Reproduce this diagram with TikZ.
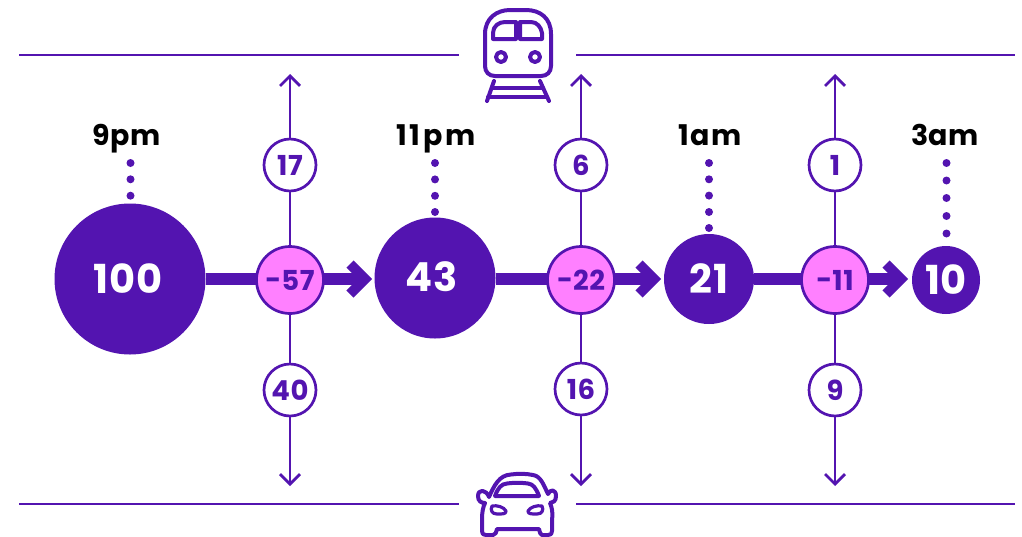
\documentclass[tikz,border=0pt]{standalone}
\usepackage{fontspec}
\setmainfont{Poppins}[BoldFont={Poppins Bold},LetterSpace=2]
\definecolor{vio}{HTML}{5314B0}
\definecolor{pnk}{HTML}{FF80FF}
\usetikzlibrary{arrows.meta}
\tikzset{
  every node/.style={font=\bfseries},
  hline/.style={vio,line width=2.8pt},
  big/.style={circle,fill=vio,text=white,inner sep=0pt,font=\bfseries\fontsize{40}{40}\selectfont},
  delta/.style={circle,draw=vio,line width=2.7pt,fill=pnk,text=vio,minimum size=67pt,inner sep=0pt,font=\bfseries\fontsize{27.5}{27.5}\selectfont},
  flow/.style={circle,draw=vio,line width=2.7pt,fill=white,text=vio,minimum size=52pt,inner sep=0pt,font=\bfseries\fontsize{27.5}{27.5}\selectfont},
  timelbl/.style={text=black,inner sep=0pt,anchor=base,font=\bfseries\fontsize{28.5}{28.5}\selectfont},
  thin arrow/.style={vio,line width=2.8pt,-{Straight Barb[length=10pt,width=20pt,line width=2.8pt]}},
  shaft/.style={vio,line width=11.5pt},
  chev/.style={vio,line width=10pt,line join=miter,miter limit=10},
  dotmark/.style={vio},
  icon/.style={vio,line width=4pt,line join=round,line cap=round}
}
\begin{document}
\begin{tikzpicture}[x=1pt,y=-1pt]
\useasboundingbox (0,0) rectangle (1022,536);
% rails
\coordinate (ta) at (19,55); \coordinate (tb) at (459,55);
\coordinate (tc) at (576,55); \coordinate (td) at (1015,55);
\coordinate (ca) at (19,504); \coordinate (cb) at (459,504);
\coordinate (cc) at (576,504); \coordinate (cd) at (1015,504);
\draw[hline] (ta)--(tb) (tc)--(td) (ca)--(cb) (cc)--(cd);
% arrow ends
\coordinate (u1) at (290,74); \coordinate (d1) at (290,486);
\coordinate (u2) at (581,74); \coordinate (d2) at (581,486);
\coordinate (u3) at (835,74); \coordinate (d3) at (835,486);
% main nodes
\node[big,minimum size=151pt] (n1) at (130,279) {\hspace{-4pt}100};
\node[big,minimum size=121pt] (n2) at (435,278) {\hspace{-7pt}\raisebox{3pt}{43}};
\node[big,minimum size=90pt] (n3) at (709,279) {21};
\node[big,minimum size=68pt] (n4) at (946,280) {10};
% deltas
\coordinate (p1) at (290,280); \coordinate (p2) at (581,280); \coordinate (p3) at (835,280);
\draw[thin arrow] (p1)--(u1); \draw[thin arrow] (p1)--(d1);
\draw[thin arrow] (p2)--(u2); \draw[thin arrow] (p2)--(d2);
\draw[thin arrow] (p3)--(u3); \draw[thin arrow] (p3)--(d3);
% thick arrows: shaft + chevron
\coordinate (e1) at (365,279); \coordinate (e2) at (654,279); \coordinate (e3) at (901,279);
\draw[shaft] (n1.east|-e1)--(e1);
\draw[shaft] (n2.east|-e2)--(e2);
\draw[shaft] (n3.east|-e3)--(e3);
\draw[chev] ([xshift=-15pt,yshift=-15pt]e1)--(e1)--([xshift=-15pt,yshift=15pt]e1);
\draw[chev] ([xshift=-15pt,yshift=-15pt]e2)--(e2)--([xshift=-15pt,yshift=15pt]e2);
\draw[chev] ([xshift=-15pt,yshift=-15pt]e3)--(e3)--([xshift=-15pt,yshift=15pt]e3);
\node[delta] (m1) at (p1) {\raisebox{1pt}{-}57};
\node[delta] (m2) at (p2) {\raisebox{1pt}{-}22};
\node[delta] (m3) at (p3) {\raisebox{1pt}{-}11};
\node[flow] (a1) at (290,165) {17};
\node[flow] (b1) at (290,390) {40};
\node[flow] (a2) at (581,165) {6};
\node[flow] (b2) at (581,389) {16};
\node[flow] (a3) at (835,165) {1};
\node[flow] (b3) at (835,390) {9};
% time labels
\node[timelbl] (t1) at (127,145.5) {9pm};
\node[timelbl] (t2) at (436,145.5) {\addfontfeature{LetterSpace=10}11pm};
\node[timelbl] (t3) at (710,145.5) {\addfontfeature{LetterSpace=4}1am};
\node[timelbl] (t4) at (945,145.5) {3am};
% dotted leaders
\foreach \y in {163,179.3,195.7} \fill[dotmark] (130.5,\y) circle (4);
\foreach \y in {163,179.4,195.8,212} \fill[dotmark] (435,\y) circle (4);
\foreach \y in {163,179.3,195.6,212,228} \fill[dotmark] (709,\y) circle (4);
\foreach \y in {163,180.5,198,216,233.5} \fill[dotmark] (946.5,\y) circle (4);
% train
\draw[icon] (485,34) .. controls (485,18) and (497,10) .. (510,10) -- (526,10)
  .. controls (540,10) and (551,18) .. (551,34) -- (551,66)
  .. controls (551,72) and (547,76) .. (541,76) -- (495,76)
  .. controls (489,76) and (485,72) .. (485,66) -- cycle;
\draw[icon] (493,39) -- (493,33) .. controls (493,26) and (499,22) .. (505,22) -- (516,22) -- (516,39) -- cycle;
\draw[icon] (520,39) -- (520,22) -- (531,22) .. controls (537,22) and (541,27) .. (542,33) -- (542,39) -- cycle;
\draw[icon] (501,57) circle (5);
\draw[icon] (535,57) circle (5);
\draw[icon] (494,81) -- (487,101);
\draw[icon] (540,81) -- (549,101);
\draw[icon] (492,88) -- (543,88);
\draw[icon] (488,97) -- (547,97);
% car
\draw[icon] (489,497) .. controls (494,486) and (499,475) .. (511,474.5)
  .. controls (518,473.5) and (526,473.5) .. (533,475)
  .. controls (541,476) and (544,486) .. (548,494)
  .. controls (550,489) and (556,489) .. (556,496)
  .. controls (556,501) and (553,503) .. (550,503)
  .. controls (552,508) and (553,512) .. (552,520) -- (552,531)
  .. controls (552,534) and (551,535) .. (548,535) -- (542,535)
  .. controls (540,535) and (540,532) .. (539,529) -- (497,529)
  .. controls (496,532) and (496,535) .. (493,535) -- (486,535)
  .. controls (483,535) and (482,534) .. (482,531) -- (482,520)
  .. controls (482,512) and (483,507) .. (485,503)
  .. controls (481,503) and (478,501) .. (478,496)
  .. controls (478,489) and (486,489) .. (489,497) -- cycle;
\draw[icon] (495,496) .. controls (498,488) and (501,484) .. (507,483.5)
  .. controls (515,482.5) and (520,482.5) .. (528,483.5)
  .. controls (533,484) and (536,488) .. (539,496) -- cycle;
\draw[icon,line width=3.2pt] (492,506) .. controls (497,505) and (504,507) .. (506,511)
  .. controls (506,514) and (503,514) .. (497,514) .. controls (492,514) and (490,510) .. (492,506) -- cycle;
\draw[icon,line width=3.2pt] (542,506) .. controls (537,505) and (530,507) .. (528,511)
  .. controls (528,514) and (531,514) .. (537,514) .. controls (542,514) and (544,510) .. (542,506) -- cycle;
\end{tikzpicture}
\end{document}
